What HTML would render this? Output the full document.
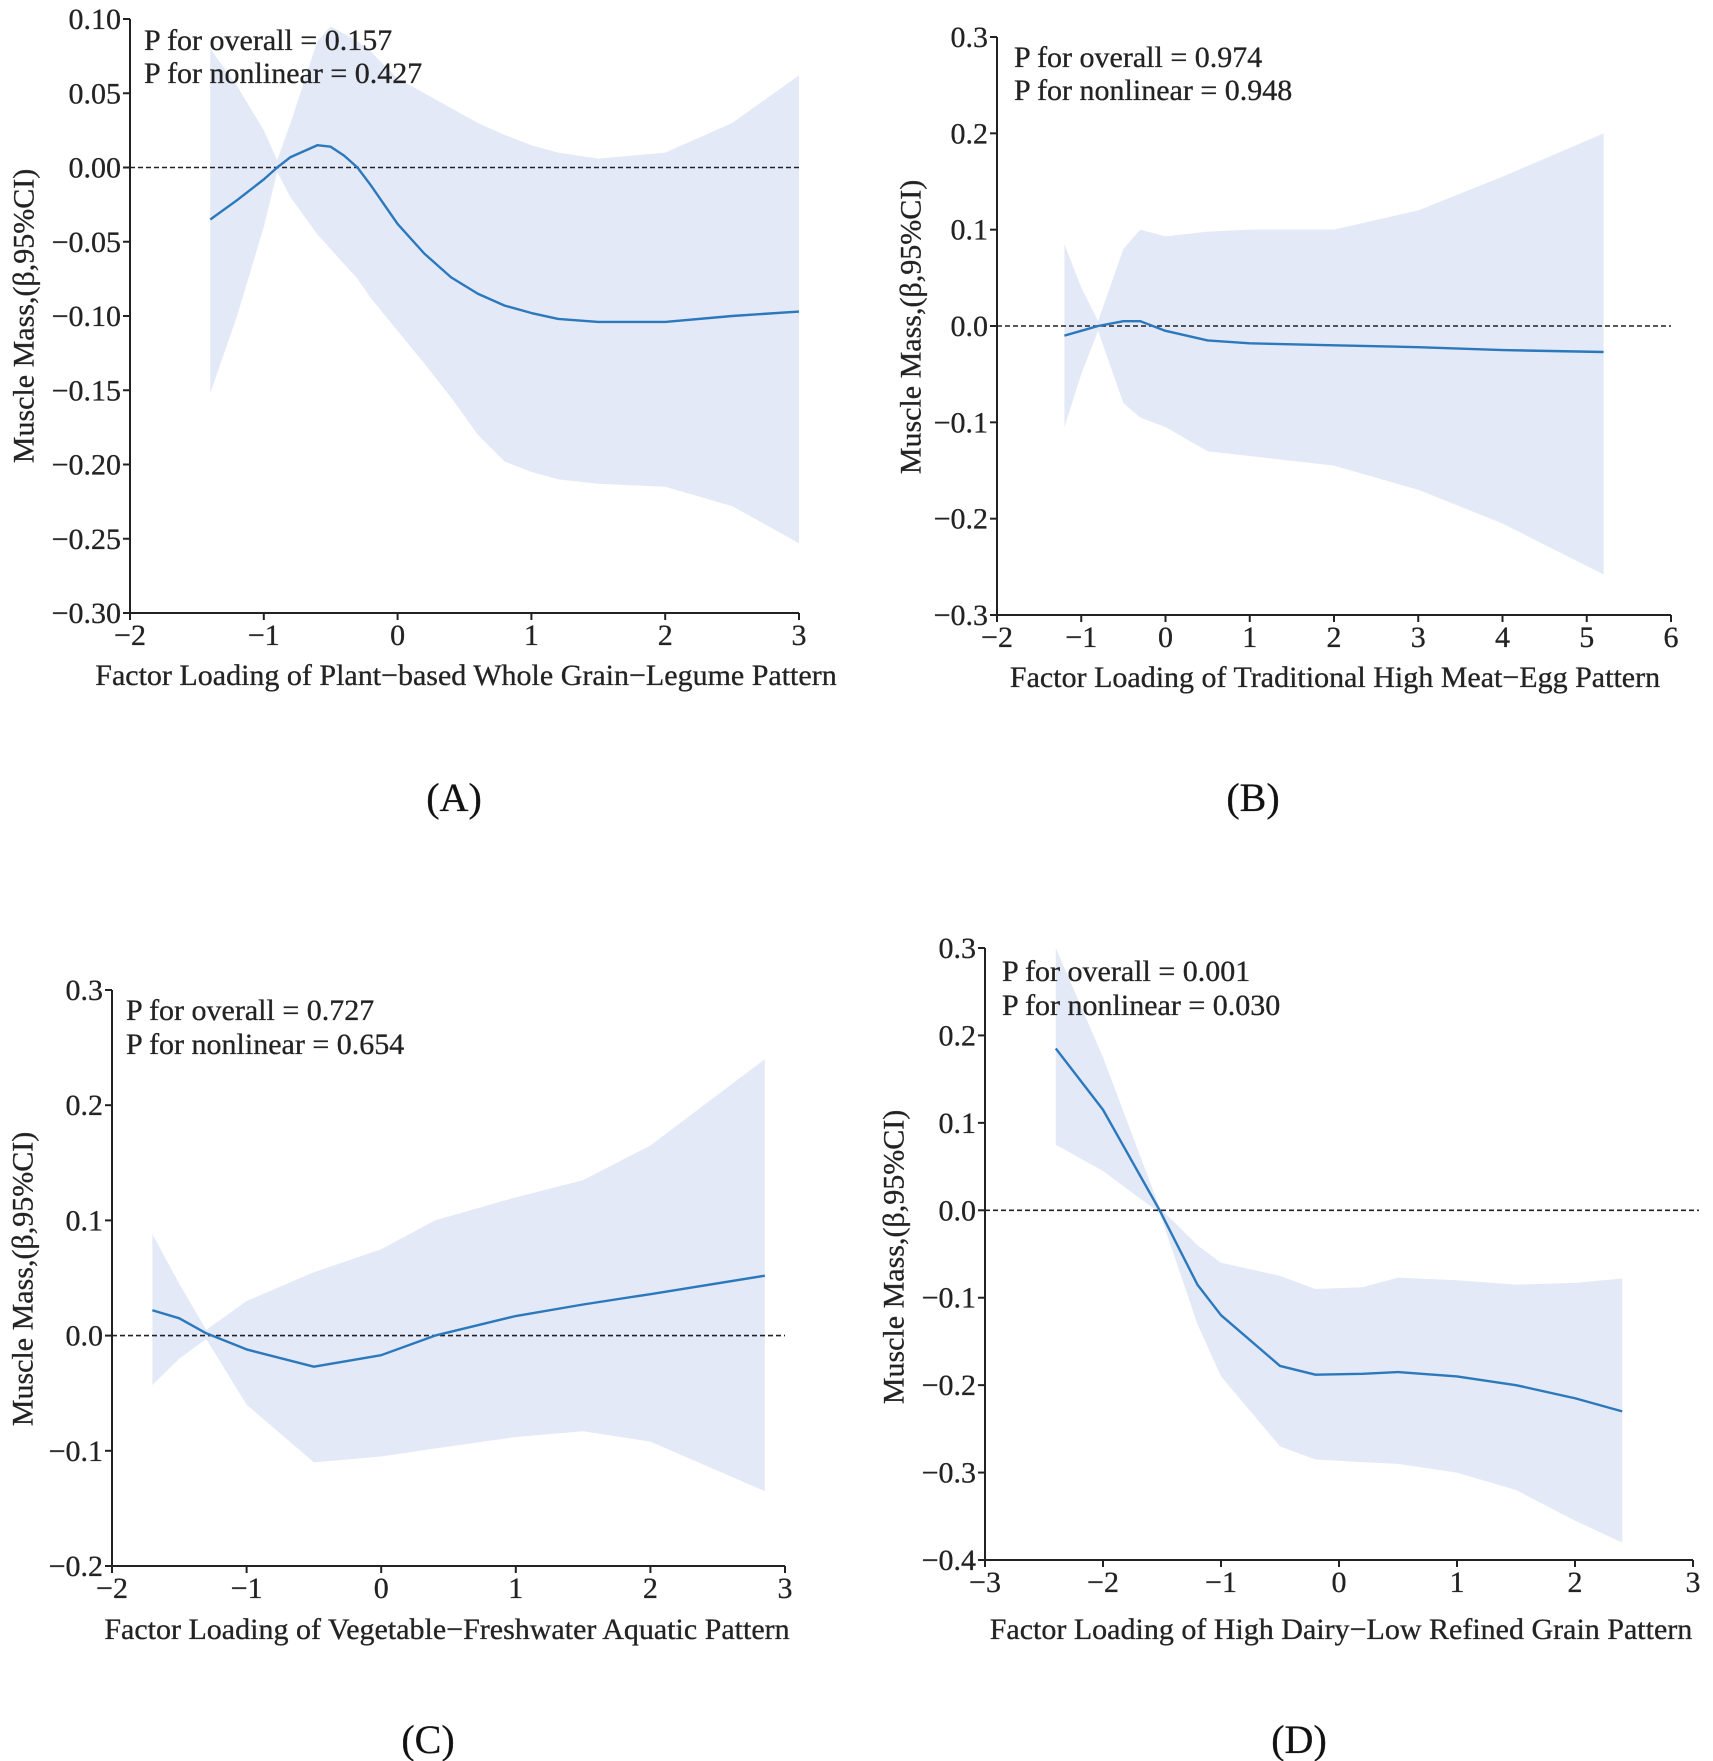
<!DOCTYPE html>
<html><head><meta charset="utf-8">
<style>
html,body{margin:0;padding:0;background:#fff;}
svg{display:block;font-family:"Liberation Serif",serif;}
text{stroke:#333;stroke-width:0.35;}
</style></head>
<body>
<svg id="fig" width="1713" height="1761" viewBox="0 0 1713 1761" xmlns="http://www.w3.org/2000/svg"></svg>
<script>
// Panel A data
const aX   = [-1.4,-1.2,-1.0,-0.9,-0.8,-0.6,-0.5,-0.4,-0.3,-0.2,0,0.2,0.4,0.6,0.8,1.0,1.2,1.5,2.0,2.5,3.0];
const aMid = [-0.035,-0.022,-0.008,0,0.007,0.015,0.014,0.008,0,-0.012,-0.038,-0.058,-0.074,-0.085,-0.093,-0.098,-0.102,-0.104,-0.104,-0.100,-0.097];
const aHi  = [0.080,0.055,0.025,0.005,0.030,0.085,0.095,0.090,0.085,0.078,0.060,0.050,0.040,0.030,0.022,0.015,0.010,0.006,0.010,0.030,0.062];
const aLo  = [-0.152,-0.100,-0.040,-0.003,-0.020,-0.045,-0.055,-0.065,-0.075,-0.088,-0.110,-0.132,-0.155,-0.180,-0.198,-0.205,-0.210,-0.213,-0.215,-0.228,-0.253];
const aXTicks = [-2,-1,0,1,2,3];
const aYTicks = [0.10,0.05,0.00,-0.05,-0.10,-0.15,-0.20,-0.25,-0.30];
const aYLabels = ["0.10","0.05","0.00","\u22120.05","\u22120.10","\u22120.15","\u22120.20","\u22120.25","\u22120.30"];

// Panel B data
const bX   = [-1.2,-1.0,-0.8,-0.5,-0.3,0,0.5,1,2,3,4,5.2];
const bMid = [-0.010,-0.005,0,0.005,0.005,-0.005,-0.015,-0.018,-0.020,-0.022,-0.025,-0.027];
const bHi  = [0.085,0.040,0.005,0.080,0.100,0.093,0.098,0.100,0.100,0.120,0.155,0.200];
const bLo  = [-0.105,-0.050,-0.005,-0.080,-0.095,-0.105,-0.130,-0.135,-0.145,-0.170,-0.205,-0.258];
const bXTicks = [-2,-1,0,1,2,3,4,5,6];
const bYTicks = [0.3,0.2,0.1,0.0,-0.1,-0.2,-0.3];
const bYLabels = ["0.3","0.2","0.1","0.0","\u22120.1","\u22120.2","\u22120.3"];

// Panel C data
const cX   = [-1.7,-1.5,-1.3,-1.0,-0.5,0,0.4,1.0,1.5,2.0,2.85];
const cMid = [0.022,0.015,0.002,-0.012,-0.027,-0.017,0,0.017,0.027,0.036,0.052];
const cHi  = [0.088,0.045,0.005,0.030,0.055,0.075,0.100,0.120,0.135,0.165,0.240];
const cLo  = [-0.043,-0.020,-0.003,-0.060,-0.110,-0.105,-0.098,-0.088,-0.083,-0.092,-0.135];
const cXTicks = [-2,-1,0,1,2,3];
const cYTicks = [0.3,0.2,0.1,0.0,-0.1,-0.2];
const cYLabels = ["0.3","0.2","0.1","0.0","\u22120.1","\u22120.2"];

// Panel D data
const dX   = [-2.4,-2.0,-1.52,-1.2,-1.0,-0.5,-0.2,0.2,0.5,1.0,1.5,2.0,2.4];
const dMid = [0.185,0.115,0.0,-0.085,-0.120,-0.178,-0.188,-0.187,-0.185,-0.190,-0.200,-0.215,-0.230];
const dHi  = [0.300,0.175,0.003,-0.040,-0.060,-0.075,-0.090,-0.088,-0.077,-0.080,-0.085,-0.083,-0.078];
const dLo  = [0.075,0.045,-0.003,-0.130,-0.190,-0.270,-0.285,-0.288,-0.290,-0.300,-0.320,-0.355,-0.380];
const dXTicks = [-3,-2,-1,0,1,2,3];
const dYTicks = [0.3,0.2,0.1,0.0,-0.1,-0.2,-0.3,-0.4];
const dYLabels = ["0.3","0.2","0.1","0.0","\u22120.1","\u22120.2","\u22120.3","\u22120.4"];

const NS = "http://www.w3.org/2000/svg";
const svg = document.getElementById("fig");
function el(tag, attrs, parent){
  const e = document.createElementNS(NS, tag);
  for (const k in attrs) e.setAttribute(k, attrs[k]);
  (parent||svg).appendChild(e);
  return e;
}
function fmtX(v){ return v<0 ? "\u2212"+Math.abs(v) : String(v); }

const panels = [
  {id:"a", x:aX, mid:aMid, hi:aHi, lo:aLo, xt:aXTicks, yt:aYTicks, yl:aYLabels,
   px0:130, px1:799, py0:19, py1:613, xmin:-2, xmax:3, ymin:-0.30, ymax:0.10,
   p1:"P for overall = 0.157", p2:"P for nonlinear = 0.427", tx:144, ty1:40, ty2:73,
   ytx:24, yty:316, xtitle:"Factor Loading of Plant\u2212based Whole Grain\u2212Legume Pattern", xtx:466, xty:675,
   tag:"(A)", tagx:454, tagy:797, zeroEnd:3},
  {id:"b", x:bX, mid:bMid, hi:bHi, lo:bLo, xt:bXTicks, yt:bYTicks, yl:bYLabels,
   px0:997, px1:1671, py0:37, py1:615, xmin:-2, xmax:6, ymin:-0.3, ymax:0.3,
   p1:"P for overall = 0.974", p2:"P for nonlinear = 0.948", tx:1014, ty1:57, ty2:90,
   ytx:911, yty:327, xtitle:"Factor Loading of Traditional High Meat\u2212Egg Pattern", xtx:1335, xty:677,
   tag:"(B)", tagx:1253, tagy:797, zeroEnd:6},
  {id:"c", x:cX, mid:cMid, hi:cHi, lo:cLo, xt:cXTicks, yt:cYTicks, yl:cYLabels,
   px0:112, px1:785, py0:990, py1:1566, xmin:-2, xmax:3, ymin:-0.2, ymax:0.3,
   p1:"P for overall = 0.727", p2:"P for nonlinear = 0.654", tx:126, ty1:1010, ty2:1044,
   ytx:23, yty:1279, xtitle:"Factor Loading of Vegetable\u2212Freshwater Aquatic  Pattern", xtx:447, xty:1629,
   tag:"(C)", tagx:428, tagy:1739, zeroEnd:3},
  {id:"d", x:dX, mid:dMid, hi:dHi, lo:dLo, xt:dXTicks, yt:dYTicks, yl:dYLabels,
   px0:985, px1:1693, py0:948, py1:1560, xmin:-3, xmax:3, ymin:-0.4, ymax:0.3,
   p1:"P for overall = 0.001", p2:"P for nonlinear = 0.030", tx:1002, ty1:971, ty2:1005,
   ytx:894, yty:1257, xtitle:"Factor Loading of High Dairy\u2212Low Refined Grain Pattern", xtx:1341, xty:1629,
   tag:"(D)", tagx:1299, tagy:1739, zeroEnd:3.05}
];

panels.forEach(p => {
  const g = el("g", {});
  
  
  const sx = v => p.px0 + (v - p.xmin) / (p.xmax - p.xmin) * (p.px1 - p.px0);
  const sy = v => p.py1 - (v - p.ymin) / (p.ymax - p.ymin) * (p.py1 - p.py0);

  let pts = p.x.map((xv,i) => sx(xv)+","+sy(p.hi[i]));
  for (let i=p.x.length-1;i>=0;i--) pts.push(sx(p.x[i])+","+sy(p.lo[i]));
  const band = el("polygon", {points: pts.join(" "), fill:"#e3e9f6", stroke:"none"}, g);
  
  

  const zl = el("line", {x1:p.px0, x2:sx(p.zeroEnd), y1:sy(0), y2:sy(0), stroke:"#222", "stroke-width":1.6, "stroke-dasharray":"5,3"}, g);
  
  

  const ln = el("polyline", {points: p.x.map((xv,i)=>sx(xv)+","+sy(p.mid[i])).join(" "), fill:"none", stroke:"#2b78bd", "stroke-width":2.4, "stroke-linejoin":"round"}, g);
  
  

  const ya = el("line", {x1:p.px0, x2:p.px0, y1:p.py0, y2:p.py1, stroke:"#222", "stroke-width":2}, g);
  
  
  const xa = el("line", {x1:p.px0, x2:p.px1, y1:p.py1, y2:p.py1, stroke:"#222", "stroke-width":2}, g);
  
  

  p.yt.forEach((v,i) => {
    el("line", {x1:p.px0-7, x2:p.px0, y1:sy(v), y2:sy(v), stroke:"#222", "stroke-width":2}, g);
    const t = el("text", {x:p.px0-9, y:sy(v)+10, "text-anchor":"end", "font-size":30, fill:"#222"}, g);
    t.textContent = p.yl[i];
    
    
  });
  p.xt.forEach(v => {
    el("line", {x1:sx(v), x2:sx(v), y1:p.py1, y2:p.py1+7, stroke:"#222", "stroke-width":2}, g);
    const t = el("text", {x:sx(v), y:p.py1+32, "text-anchor":"middle", "font-size":30, fill:"#222"}, g);
    t.textContent = fmtX(v);
    
    
  });

  const t1 = el("text", {x:p.tx, y:p.ty1+10, "font-size":30, fill:"#222"}, g);
  t1.textContent = p.p1;
  
  
  const t2 = el("text", {x:p.tx, y:p.ty2+10, "font-size":30, fill:"#222"}, g);
  t2.textContent = p.p2;
  
  

  const yt = el("text", {x:p.ytx, y:p.yty, "text-anchor":"middle", "font-size":30, fill:"#222", transform:"rotate(-90 "+p.ytx+" "+p.yty+")", "dominant-baseline":"central"}, g);
  yt.textContent = "Muscle Mass,(\u03B2,95%CI)";
  
  

  const xtl = el("text", {x:p.xtx, y:p.xty+10, "text-anchor":"middle", "font-size":30, fill:"#222"}, g);
  xtl.textContent = p.xtitle;
  
  

  const tg = el("text", {x:p.tagx, y:p.tagy+14, "text-anchor":"middle", "font-size":40, fill:"#111"}, g);
  tg.textContent = p.tag;
  
  
});
</script>
</body></html>
